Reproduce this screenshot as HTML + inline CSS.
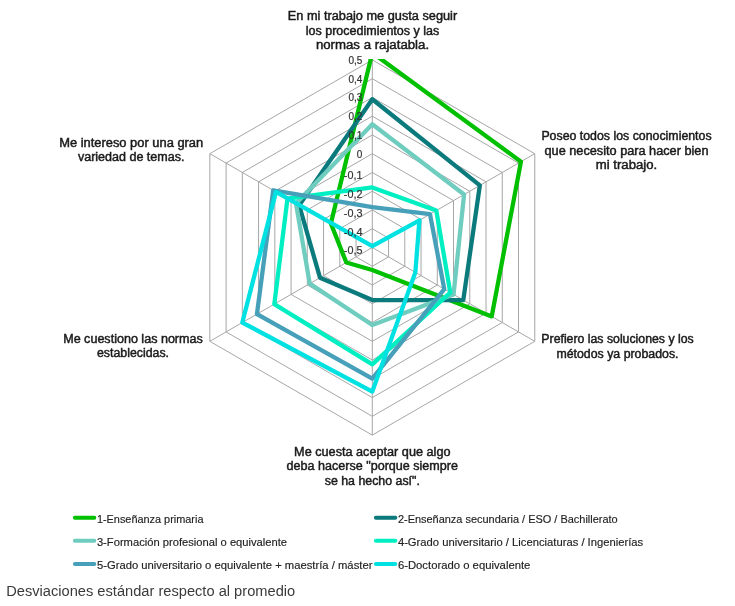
<!DOCTYPE html>
<html><head><meta charset="utf-8"><style>
html,body{margin:0;padding:0;background:#fff;}
svg{display:block;will-change:transform;}
.g polygon,.g line{fill:none;stroke:#a6a6a6;stroke-width:1;}
.s polygon{fill:none;stroke-width:4.3;stroke-linejoin:round;}
.t text{font-family:"Liberation Sans",sans-serif;fill:#333;stroke:#333;stroke-width:0.2px;text-anchor:end;}
.c text{font-family:"Liberation Sans",sans-serif;font-size:12px;fill:#1a1a1a;stroke:#1a1a1a;stroke-width:0.45px;text-anchor:middle;}
.l line{stroke-width:4;stroke-linecap:round;}
.l text{font-family:"Liberation Sans",sans-serif;font-size:11px;fill:#222;stroke:#222;stroke-width:0.15px;}
.cap{font-family:"Liberation Sans",sans-serif;font-size:15.5px;fill:#3a3a3a;}
</style></head><body>
<svg width="735" height="606" viewBox="0 0 735 606">
<defs><clipPath id="pa"><rect x="0" y="59" width="735" height="400"/></clipPath></defs>
<g class="g">
<polygon points="372.30,228.74 388.55,238.12 388.55,256.88 372.30,266.26 356.05,256.88 356.05,238.12"/>
<polygon points="372.30,209.98 404.79,228.74 404.79,266.26 372.30,285.02 339.81,266.26 339.81,228.74"/>
<polygon points="372.30,191.22 421.04,219.36 421.04,275.64 372.30,303.78 323.56,275.64 323.56,219.36"/>
<polygon points="372.30,172.46 437.29,209.98 437.29,285.02 372.30,322.54 307.31,285.02 307.31,209.98"/>
<polygon points="372.30,153.70 453.53,200.60 453.53,294.40 372.30,341.30 291.07,294.40 291.07,200.60"/>
<polygon points="372.30,134.94 469.78,191.22 469.78,303.78 372.30,360.06 274.82,303.78 274.82,191.22"/>
<polygon points="372.30,116.18 486.03,181.84 486.03,313.16 372.30,378.82 258.57,313.16 258.57,181.84"/>
<polygon points="372.30,97.42 502.27,172.46 502.27,322.54 372.30,397.58 242.33,322.54 242.33,172.46"/>
<polygon points="372.30,78.66 518.52,163.08 518.52,331.92 372.30,416.34 226.08,331.92 226.08,163.08"/>
<polygon points="372.30,59.90 534.77,153.70 534.77,341.30 372.30,435.10 209.83,341.30 209.83,153.70"/>
<line x1="372.30" y1="247.50" x2="372.30" y2="59.90"/>
<line x1="372.30" y1="247.50" x2="534.77" y2="153.70"/>
<line x1="372.30" y1="247.50" x2="534.77" y2="341.30"/>
<line x1="372.30" y1="247.50" x2="372.30" y2="435.10"/>
<line x1="372.30" y1="247.50" x2="209.83" y2="341.30"/>
<line x1="372.30" y1="247.50" x2="209.83" y2="153.70"/>
</g>
<g class="s" clip-path="url(#pa)">
<polygon points="372.30,52.77 520.96,161.67 491.71,316.44 372.30,270.01 346.31,262.51 330.87,223.58" stroke="#00c000"/>
<polygon points="372.30,99.30 479.85,185.40 463.28,300.03 372.30,300.03 319.99,277.70 299.19,205.29" stroke="#0b7a7c"/>
<polygon points="372.30,124.25 464.09,194.50 453.53,294.40 372.30,324.98 309.75,283.61 295.94,203.41" stroke="#6fcdbf"/>
<polygon points="372.30,187.47 436.31,210.54 450.28,292.52 372.30,364.37 274.33,304.06 287.49,198.54" stroke="#00efc2"/>
<polygon points="372.30,207.17 429.98,214.20 444.27,289.05 372.30,378.63 256.95,314.10 273.20,190.28" stroke="#47a0b9"/>
<polygon points="372.30,246.19 419.42,220.30 415.35,272.36 372.30,391.58 242.33,322.54 275.96,191.88" stroke="#00e1e1"/>
</g>
<g class="t">
<text x="362.4" y="63.77" font-size="10.0">0,5</text>
<text x="362.4" y="82.77" font-size="10.0">0,4</text>
<text x="362.4" y="101.32" font-size="10.0">0,3</text>
<text x="362.4" y="120.02" font-size="10.0">0,2</text>
<text x="362.4" y="139.12" font-size="10.0">0,1</text>
<text x="362.4" y="157.77" font-size="10.0">0</text>
<text x="362.4" y="179.20" font-size="10.8">-0,1</text>
<text x="362.4" y="198.00" font-size="10.8">-0,2</text>
<text x="362.4" y="216.80" font-size="10.8">-0,3</text>
<text x="362.4" y="235.50" font-size="10.8">-0,4</text>
<text x="362.4" y="254.40" font-size="10.8">-0,5</text>
</g>
<g class="c">
<text x="372.5" y="20.2" textLength="169.3" lengthAdjust="spacingAndGlyphs">En mi trabajo me gusta seguir</text>
<text x="372.5" y="34.9" textLength="133.5" lengthAdjust="spacingAndGlyphs">los procedimientos y las</text>
<text x="372.5" y="49.3" textLength="113.2" lengthAdjust="spacingAndGlyphs">normas a rajatabla.</text>
<text x="626.5" y="140.1" textLength="170.2" lengthAdjust="spacingAndGlyphs">Poseo todos los conocimientos</text>
<text x="626.5" y="154.6" textLength="164.0" lengthAdjust="spacingAndGlyphs">que necesito para hacer bien</text>
<text x="626.5" y="168.9" textLength="61.4" lengthAdjust="spacingAndGlyphs">mi trabajo.</text>
<text x="617.5" y="342.9" textLength="152.3" lengthAdjust="spacingAndGlyphs">Prefiero las soluciones y los</text>
<text x="617.5" y="357.6" textLength="122.1" lengthAdjust="spacingAndGlyphs">métodos ya probados.</text>
<text x="372.3" y="455.7" textLength="156.4" lengthAdjust="spacingAndGlyphs">Me cuesta aceptar que algo</text>
<text x="372.3" y="470.4" textLength="171.4" lengthAdjust="spacingAndGlyphs">deba hacerse "porque siempre</text>
<text x="372.3" y="484.8" textLength="95.1" lengthAdjust="spacingAndGlyphs">se ha hecho así".</text>
<text x="133.0" y="342.8" textLength="139.6" lengthAdjust="spacingAndGlyphs">Me cuestiono las normas</text>
<text x="133.0" y="357.1" textLength="72.1" lengthAdjust="spacingAndGlyphs">establecidas.</text>
<text x="131.2" y="147.0" textLength="144.0" lengthAdjust="spacingAndGlyphs">Me intereso por una gran</text>
<text x="131.2" y="161.3" textLength="106.5" lengthAdjust="spacingAndGlyphs">variedad de temas.</text>
</g>
<g class="l">
<line x1="74.9" y1="517.7" x2="94.3" y2="517.7" stroke="#00c000"/>
<text x="96.9" y="522.5" textLength="106.6" lengthAdjust="spacingAndGlyphs">1-Enseñanza primaria</text>
<line x1="375.9" y1="517.7" x2="395.3" y2="517.7" stroke="#0b7a7c"/>
<text x="397.9" y="522.5" textLength="219.8" lengthAdjust="spacingAndGlyphs">2-Enseñanza secundaria / ESO / Bachillerato</text>
<line x1="74.9" y1="540.8" x2="94.3" y2="540.8" stroke="#6fcdbf"/>
<text x="96.9" y="545.6" textLength="190.2" lengthAdjust="spacingAndGlyphs">3-Formación profesional o equivalente</text>
<line x1="375.9" y1="540.8" x2="395.3" y2="540.8" stroke="#00efc2"/>
<text x="397.9" y="545.6" textLength="245.3" lengthAdjust="spacingAndGlyphs">4-Grado universitario / Licenciaturas / Ingenierías</text>
<line x1="74.9" y1="564.0" x2="94.3" y2="564.0" stroke="#47a0b9"/>
<text x="96.9" y="568.8" textLength="275.5" lengthAdjust="spacingAndGlyphs">5-Grado universitario o equivalente + maestría / máster</text>
<line x1="375.9" y1="564.0" x2="395.3" y2="564.0" stroke="#00e1e1"/>
<text x="397.9" y="568.8" textLength="132.5" lengthAdjust="spacingAndGlyphs">6-Doctorado o equivalente</text>
</g>
<text class="cap" x="6.2" y="595.5" textLength="289" lengthAdjust="spacingAndGlyphs">Desviaciones estándar respecto al promedio</text>
</svg>
</body></html>
